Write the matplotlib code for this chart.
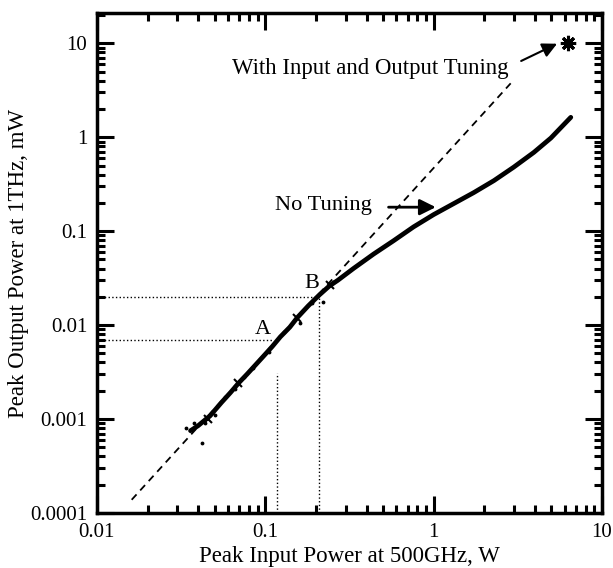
import numpy as np
from matplotlib import pyplot as plt
from matplotlib.ticker import LogLocator, NullFormatter, FixedLocator, FixedFormatter

# measured output, no tuning (input W, output mW)
no_tune_in = [0.036, 0.040, 0.047, 0.055, 0.062, 0.070, 0.078, 0.088, 0.097, 0.110,
              0.123, 0.140, 0.155, 0.180, 0.21, 0.24, 0.27, 0.334, 0.44, 0.578,
              0.76, 1.0, 1.32, 1.73, 2.28, 2.99, 3.94, 4.97, 6.53]
no_tune_out = [0.00075, 0.00085, 0.00108, 0.0015, 0.0019, 0.00245, 0.0030, 0.0038, 0.0046, 0.0059,
               0.0075, 0.0095, 0.0120, 0.016, 0.021, 0.026, 0.030, 0.040, 0.057, 0.079,
               0.111, 0.150, 0.197, 0.257, 0.345, 0.48, 0.69, 0.98, 1.63]

# scattered raw points around the low power end
scatter_in = [0.034, 0.038, 0.042, 0.044, 0.050, 0.058, 0.066, 0.075, 0.085, 0.105, 0.13, 0.16, 0.19, 0.22]
scatter_out = [0.0008, 0.0009, 0.00056, 0.0009, 0.0011, 0.0017, 0.0021, 0.0028, 0.0035, 0.0052, 0.0085, 0.0105, 0.017, 0.0175]

# tuned points (crosses)
cross_in = [0.046, 0.069, 0.155, 0.244]
cross_out = [0.001, 0.0024, 0.012, 0.0267]

# square law guide line
guide_in = [0.0161, 2.87]
guide_out = [0.000138, 3.75]

# best tuned point
tuned_in = [6.3]
tuned_out = [10.0]

# reference points A and B
ref_in = [0.118, 0.21]
ref_out = [0.007, 0.02]
ref_names = ['A', 'B']

plt.rcParams['font.family'] = ['Liberation Serif', 'DejaVu Serif']

fig = plt.figure(figsize=(6.13, 5.68), dpi=100)
ax = fig.add_axes([0.158, 0.097, 0.824, 0.880])
ax.set_xscale('log')
ax.set_yscale('log')
ax.set_xlim(0.01, 10)
ax.set_ylim(0.0001, 21)

ax.plot(guide_in, guide_out, color='black', linestyle=(0, (4, 3)), linewidth=1.3)
ax.plot(no_tune_in, no_tune_out, color='black', linewidth=3.4, solid_capstyle='round')
ax.plot(scatter_in, scatter_out, 'k.', markersize=3.5)
ax.plot(cross_in, cross_out, 'kx', markersize=6, markeredgewidth=1.5)
ax.plot(tuned_in, tuned_out, color='black', marker=(8, 2, 0), markersize=11,
        markeredgewidth=2.2, linestyle='none')

# dotted guides to A and B
ax.plot([0.01, ref_in[0] * 0.93], [ref_out[0], ref_out[0]], 'k:', linewidth=1)
ax.plot([ref_in[0], ref_in[0]], [0.0001, 0.0031], 'k:', linewidth=1)
ax.plot([0.01, ref_in[1]], [ref_out[1], ref_out[1]], 'k:', linewidth=1)
ax.plot([ref_in[1], ref_in[1]], [0.0001, ref_out[1]], 'k:', linewidth=1)
ax.text(0.097, 0.0089, ref_names[0], fontsize=16, ha='center', va='center')
ax.text(0.19, 0.028, ref_names[1], fontsize=16, ha='center', va='center')

ax.text(0.42, 5.4, 'With Input and Output Tuning', fontsize=16.4, ha='center', va='center')
ax.annotate('', xy=(5.6, 10.2), xytext=(3.2, 6.3),
            arrowprops=dict(arrowstyle='-|>', color='black', lw=1.5, mutation_scale=22))
ax.text(0.221, 0.189, 'No Tuning', fontsize=16.2, ha='center', va='center')
ax.annotate('', xy=(1.07, 0.18), xytext=(0.52, 0.18),
            arrowprops=dict(arrowstyle='-|>', color='black', lw=2, mutation_scale=24))

ax.xaxis.set_major_locator(FixedLocator([0.01, 0.1, 1, 10]))
ax.xaxis.set_major_formatter(FixedFormatter(['0.01', '0.1', '1', '10']))
ax.xaxis.set_minor_locator(LogLocator(base=10, subs=np.arange(2, 10)))
ax.xaxis.set_minor_formatter(NullFormatter())
ax.yaxis.set_major_locator(FixedLocator([0.0001, 0.001, 0.01, 0.1, 1, 10]))
ax.yaxis.set_major_formatter(FixedFormatter(['0.0001', '0.001', '0.01', '0.1', '1', '10']))
ax.yaxis.set_minor_locator(LogLocator(base=10, subs=np.arange(2, 10)))
ax.yaxis.set_minor_formatter(NullFormatter())

ax.tick_params(which='both', direction='in', top=True, right=True, width=2.2, labelsize=15)
ax.tick_params(which='major', length=12, pad=7)
ax.tick_params(which='minor', length=6)
for s in ax.spines.values():
    s.set_linewidth(2.5)

ax.set_xlabel('Peak Input Power at 500GHz, W', fontsize=16.5, labelpad=3)
ax.set_ylabel('Peak Output Power at 1THz, mW', fontsize=16.5, labelpad=1)

fig.savefig('out.png', dpi=100)
